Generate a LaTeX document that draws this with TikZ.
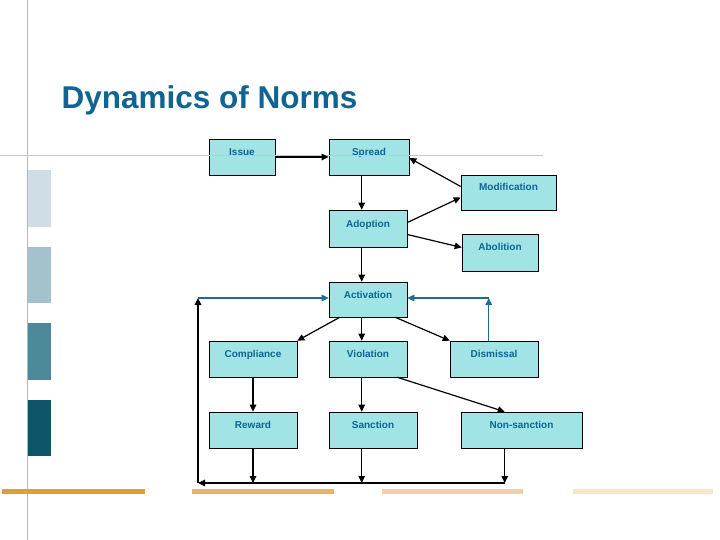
\documentclass[tikz,border=0pt]{standalone}
\usepackage{fontspec}
\setmainfont{Liberation Sans}
\usetikzlibrary{shapes.geometric, arrows, arrows.meta}
\definecolor{boxfill}{RGB}{160,228,230}
\definecolor{normblue}{RGB}{14,100,146}
\definecolor{loopblue}{RGB}{30,108,145}
\tikzstyle{arrow} = [line width=1.2pt,-{Triangle[length=7pt,width=6.5pt]}]
\tikzstyle{thinarrow} = [line width=0.8pt,-{Triangle[length=7pt,width=6.5pt]}]
\tikzstyle{bluearrow} = [line width=1.2pt,-{Triangle[length=7pt,width=6.5pt]},draw=loopblue]
\tikzstyle{box} = [rectangle, minimum width=80pt, minimum height=36pt, inner sep=0pt, text centered, text height=7pt, text depth=10pt, draw=black, line width=0.6pt, fill=boxfill, text=normblue, font=\bfseries\fontsize{10}{12}\selectfont]

\begin{document}
\begin{tikzpicture}[x=1pt, y=-1pt, node distance=71pt]
\useasboundingbox [fill=white] (0,0) rectangle (720,540);
% slide frame
\draw [color=black!28, line width=0.8pt] (27,0) -- (27,540);
\fill [color={rgb,255:red,207;green,222;blue,230}] (28,170) rectangle (51,227);
\fill [color={rgb,255:red,164;green,194;blue,203}] (28,247) rectangle (51,303);
\fill [color={rgb,255:red,77;green,136;blue,152}] (28,323) rectangle (51,380);
\fill [color={rgb,255:red,13;green,84;blue,104}] (28,400) rectangle (51,456);
\fill [color={rgb,255:red,228;green,156;blue,58}] (2,489) rectangle (145,494);
\fill [color={rgb,255:red,232;green,178;blue,104}] (192,489) rectangle (334,494);
\fill [color={rgb,255:red,242;green,208;blue,165}] (382,489) rectangle (523,494);
\fill [color={rgb,255:red,248;green,230;blue,200}] (573,489) rectangle (713,494);
\node (title) [anchor=base west, text=normblue, font=\bfseries\fontsize{31.5}{36}\selectfont] at (58,109) {Dynamics of Norms};

% boxes
\node (issue) [box, minimum width=66pt] at (242,157) {Issue};
\node (spread) [box, right of=issue, xshift=56pt] {Spread};
\node (modification) [box, right of=spread, xshift=68.5pt, yshift=-35.5pt, minimum width=95pt, minimum height=35pt] {Modification};
\node (adoption) [box, below of=spread, xshift=-1pt, yshift=-0.5pt, minimum width=78pt, minimum height=37pt] {Adoption};
\node (abolition) [box, right of=adoption, xshift=61pt, yshift=-24pt, minimum width=76pt, minimum height=37pt] {Abolition};
\node (activation) [box, below of=adoption, minimum width=78pt, minimum height=35pt] {Activation};
\node (violation) [box, below of=activation, yshift=11.5pt, minimum width=78pt] {Violation};
\node (compliance) [box, left of=violation, xshift=-44pt, minimum width=88pt] {Compliance};
\node (dismissal) [box, right of=violation, xshift=55pt, minimum width=88pt] {Dismissal};
\node (reward) [box, below of=compliance, minimum width=88pt] {Reward};
\node (sanction) [box, below of=violation, xshift=5pt, minimum width=88pt] {Sanction};
\node (nonsanction) [box, below of=dismissal, xshift=27.5pt, minimum width=121pt] {Non-sanction};
\draw [color=black!22, line width=0.9pt] (0,155) -- (543,155);

% loop corners
\coordinate [below of=reward, xshift=-55pt, yshift=18pt] (loopbl);
\coordinate (looptl) at ([yshift=1.5pt]loopbl |- activation);
\coordinate (looptr) at ([xshift=39pt]dismissal.north west |- looptl);
\coordinate (loopbr) at ([xshift=44pt]nonsanction.south west |- loopbl);

\draw [arrow] (issue) -- (spread);
\draw [thinarrow] ([xshift=33pt]spread.south west) -- ([xshift=33pt]adoption.north west);
\draw [arrow] ([yshift=6pt]modification.west) -- ([yshift=-1pt]spread.east);
\draw [arrow] ([yshift=6pt]adoption.east) -- ([yshift=-5pt]modification.west);
\draw [arrow] ([yshift=-6pt]adoption.east) -- ([yshift=5pt]abolition.west);
\draw [thinarrow] ([xshift=33pt]adoption.south west) -- ([xshift=33pt]activation.north west);
\draw [arrow] ([xshift=11pt]activation.south west) -- (compliance.north east);
\draw [thinarrow] ([xshift=33pt]activation.south west) -- ([xshift=33pt]violation.north west);
\draw [arrow] ([xshift=-12pt]activation.south east) -- (dismissal.north west);
\draw [bluearrow] ([xshift=39pt]dismissal.north west) -- (looptr);
\draw [bluearrow] (looptr) -- (activation.east |- looptr);
\draw [arrow] (compliance) -- (reward);
\draw [thinarrow] ([xshift=33pt]violation.south west) -- ([xshift=33pt]sanction.north west);
\draw [arrow] ([xshift=-10pt]violation.south east) -- ([xshift=44pt]nonsanction.north west);
\draw [arrow] (reward) -- (reward |- loopbl);
\draw [thinarrow] ([xshift=33pt]sanction.south west) -- ([xshift=33pt]sanction.south west |- loopbl);
\draw [arrow] ([xshift=44pt]nonsanction.south west) -- (loopbr);
\draw [arrow] (loopbr) -- (loopbl);
\draw [arrow] (loopbl) -- (looptl);
\draw [bluearrow] (looptl) -- (activation.west |- looptl);
\end{tikzpicture}
\end{document}
